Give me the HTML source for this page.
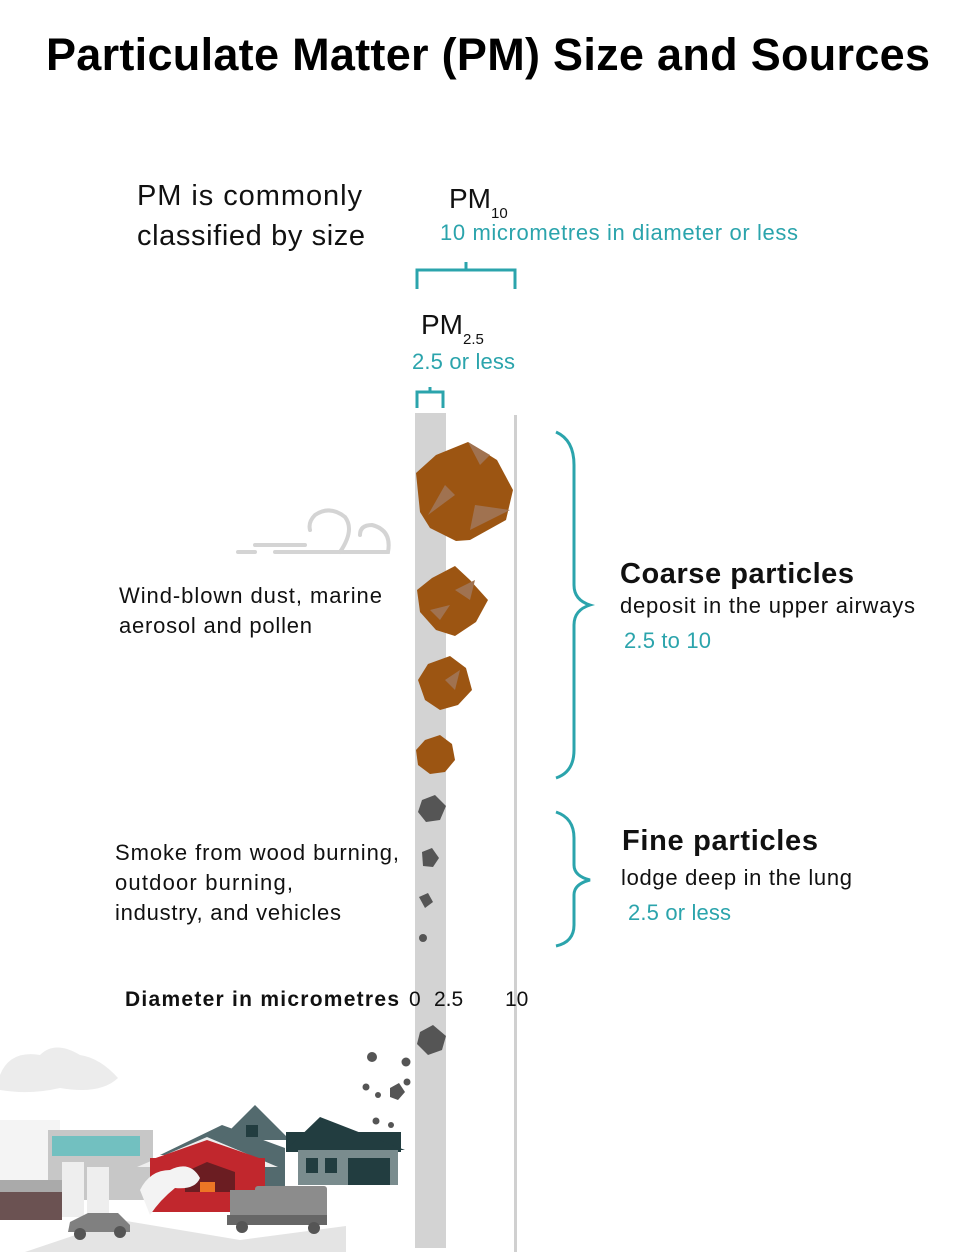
<!DOCTYPE html>
<html><head><meta charset="utf-8"><style>
html,body{margin:0;padding:0;background:#fff}
svg{display:block}
text{font-family:"Liberation Sans",sans-serif}
</style></head><body>
<svg width="971" height="1252" viewBox="0 0 971 1252" xmlns="http://www.w3.org/2000/svg">
<text x="46" y="70" textLength="884" font-size="45" font-weight="bold" fill="#000">Particulate Matter (PM) Size and Sources</text>
<text x="137" y="205" textLength="225" font-size="29" fill="#111">PM is commonly</text>
<text x="137" y="245" textLength="228" font-size="29" fill="#111">classified by size</text>
<text x="449" y="208" font-size="28" fill="#111">PM<tspan font-size="15" dy="10">10</tspan></text>
<text x="440" y="240" textLength="358" font-size="22" fill="#2ba4ac">10 micrometres in diameter or less</text>
<path d="M417 289 V270 H515 V289 M466 270 V262" stroke="#2ba4ac" stroke-width="3" fill="none"/>
<text x="421" y="334" font-size="28" fill="#111">PM<tspan font-size="15" dy="10">2.5</tspan></text>
<text x="412" y="369" textLength="103" font-size="22" fill="#2ba4ac">2.5 or less</text>
<path d="M417 408 V392 H443 V408 M430 392 V387" stroke="#2ba4ac" stroke-width="3" fill="none"/>
<rect x="415" y="413" width="31" height="835" fill="#d3d3d3"/>
<rect x="514" y="415" width="3" height="837" fill="#d0d0d0"/>
<path d="M556 432 Q574 440 574 465 V585 Q574 600 590 605 Q574 610 574 625 V750 Q574 772 556 778" stroke="#2ba4ac" stroke-width="3" fill="none"/>
<path d="M556 812 Q574 818 574 838 V865 Q574 876 590 880 Q574 884 574 895 V925 Q574 942 556 946" stroke="#2ba4ac" stroke-width="3" fill="none"/>
<text x="620" y="583" textLength="234" font-size="29" font-weight="bold" fill="#111">Coarse particles</text>
<text x="620" y="613" textLength="295" font-size="22" fill="#111">deposit in the upper airways</text>
<text x="624" y="648" textLength="87" font-size="22" fill="#2ba4ac">2.5 to 10</text>
<text x="622" y="850" textLength="196" font-size="29" font-weight="bold" fill="#111">Fine particles</text>
<text x="621" y="885" textLength="231" font-size="22" fill="#111">lodge deep in the lung</text>
<text x="628" y="920" textLength="103" font-size="22" fill="#2ba4ac">2.5 or less</text>
<text x="119" y="603" textLength="263" font-size="22" fill="#111">Wind-blown dust, marine</text>
<text x="119" y="633" textLength="193" font-size="22" fill="#111">aerosol and pollen</text>
<text x="115" y="860" textLength="284" font-size="22" fill="#111">Smoke from wood burning,</text>
<text x="115" y="890" textLength="178" font-size="22" fill="#111">outdoor burning,</text>
<text x="115" y="920" textLength="226" font-size="22" fill="#111">industry, and vehicles</text>
<text x="125" y="1006" textLength="274" font-size="21" font-weight="bold" fill="#111">Diameter in micrometres</text>
<text x="409" y="1006" font-size="21" fill="#111">0</text>
<text x="434" y="1006" font-size="21" fill="#111">2.5</text>
<text x="505" y="1006" font-size="21" fill="#111">10</text>
<g stroke="#d4d4d4" stroke-width="4" fill="none" stroke-linecap="round">
<path d="M238 552 H255 M255 545 H305 M275 552 H388 Q392 530 372 525 Q360 525 360 535 M340 552 Q355 530 345 517 Q330 505 315 515 Q308 522 310 530"/>
</g>
<g fill="#9c5512">
<polygon points="436,455 468,442 497,460 513,490 506,520 470,540 456,541 430,528 420,512 416,473"/>
<polygon points="432,578 455,566 470,580 488,600 476,622 455,636 436,630 420,612 417,590"/>
<polygon points="428,664 450,656 466,668 472,690 458,705 440,710 425,700 418,680"/>
<polygon points="425,740 440,735 452,744 455,760 445,772 430,774 418,765 416,750"/>
</g>
<g fill="#a07250">
<polygon points="468,442 480,465 490,455"/><polygon points="445,485 428,515 455,495"/><polygon points="475,505 510,510 470,530"/>
<polygon points="455,590 470,600 475,580"/><polygon points="440,620 450,605 430,610"/><polygon points="445,680 460,670 455,690"/>
</g>
<g fill="#555">
<polygon points="422,800 435,795 446,806 440,820 426,822 418,812"/>
<polygon points="422,852 432,848 439,858 433,867 423,866"/>
<polygon points="419,897 428,893 433,902 425,908"/>
<circle cx="423" cy="938" r="4"/>
<polygon points="420,1032 433,1025 446,1036 442,1050 428,1055 417,1044"/>
<polygon points="390,1088 399,1083 405,1092 398,1100 390,1097"/>
<circle cx="372" cy="1057" r="5"/><circle cx="406" cy="1062" r="4.5"/><circle cx="407" cy="1082" r="3.5"/>
<circle cx="366" cy="1087" r="3.5"/><circle cx="378" cy="1095" r="3"/><circle cx="376" cy="1121" r="3.5"/><circle cx="391" cy="1125" r="3"/>
</g>
<g>
<path d="M0 1075 Q10 1050 40 1055 Q55 1040 80 1055 Q100 1058 118 1078 Q100 1095 60 1088 Q30 1095 0 1090Z" fill="#ececec"/>
<rect x="0" y="1120" width="60" height="60" fill="#f4f4f4"/>
<rect x="48" y="1130" width="105" height="70" fill="#c7c7c7"/>
<rect x="52" y="1136" width="88" height="20" fill="#72c0c0"/>
<rect x="0" y="1180" width="62" height="12" fill="#aaa"/>
<rect x="0" y="1192" width="62" height="28" fill="#6b5252"/>
<rect x="62" y="1162" width="22" height="55" fill="#eee"/>
<rect x="87" y="1167" width="22" height="50" fill="#eee"/>
<polygon points="25,1252 346,1252 346,1226 240,1240 120,1220" fill="#e4e4e4"/>
<polygon points="222,1125 285,1148 285,1190 235,1190 235,1155 160,1155" fill="#536a6e"/>
<polygon points="255,1105 290,1140 220,1140" fill="#536a6e"/>
<rect x="246" y="1125" width="12" height="12" fill="#223d40"/>
<rect x="286" y="1132" width="115" height="20" fill="#223d40"/>
<polygon points="320,1117 405,1150 286,1150" fill="#223d40"/>
<rect x="298" y="1150" width="100" height="35" fill="#7a8c8e"/>
<rect x="306" y="1158" width="12" height="15" fill="#223d40"/><rect x="325" y="1158" width="12" height="15" fill="#223d40"/>
<rect x="348" y="1158" width="42" height="27" fill="#223d40"/>
<polygon points="137,1167 207,1137 278,1167" fill="#eee"/>
<rect x="150" y="1158" width="115" height="36" fill="#c1272d"/>
<polygon points="150,1160 207,1140 265,1160" fill="#c1272d"/>
<polygon points="185,1172 207,1162 235,1172 235,1192 185,1192" fill="#6b1d22"/>
<rect x="200" y="1182" width="15" height="30" fill="#ed7625"/>
<rect x="150" y="1192" width="95" height="20" fill="#c1272d"/>
<path d="M140 1190 Q150 1170 170 1170 Q190 1160 200 1178 Q195 1190 175 1188 Q160 1200 150 1215Z" fill="#f3f3f3"/>
<rect x="255" y="1186" width="72" height="34" rx="3" fill="#8c8c8c"/>
<rect x="230" y="1190" width="28" height="30" fill="#8c8c8c"/>
<rect x="227" y="1215" width="100" height="10" fill="#666"/>
<circle cx="242" cy="1227" r="6" fill="#555"/><circle cx="314" cy="1228" r="6" fill="#555"/>
<path d="M68 1232 L70 1222 L88 1213 H118 L130 1225 V1232Z" fill="#808080"/>
<circle cx="80" cy="1234" r="6" fill="#555"/><circle cx="120" cy="1232" r="6" fill="#555"/>
</g>
</svg>
</body></html>
